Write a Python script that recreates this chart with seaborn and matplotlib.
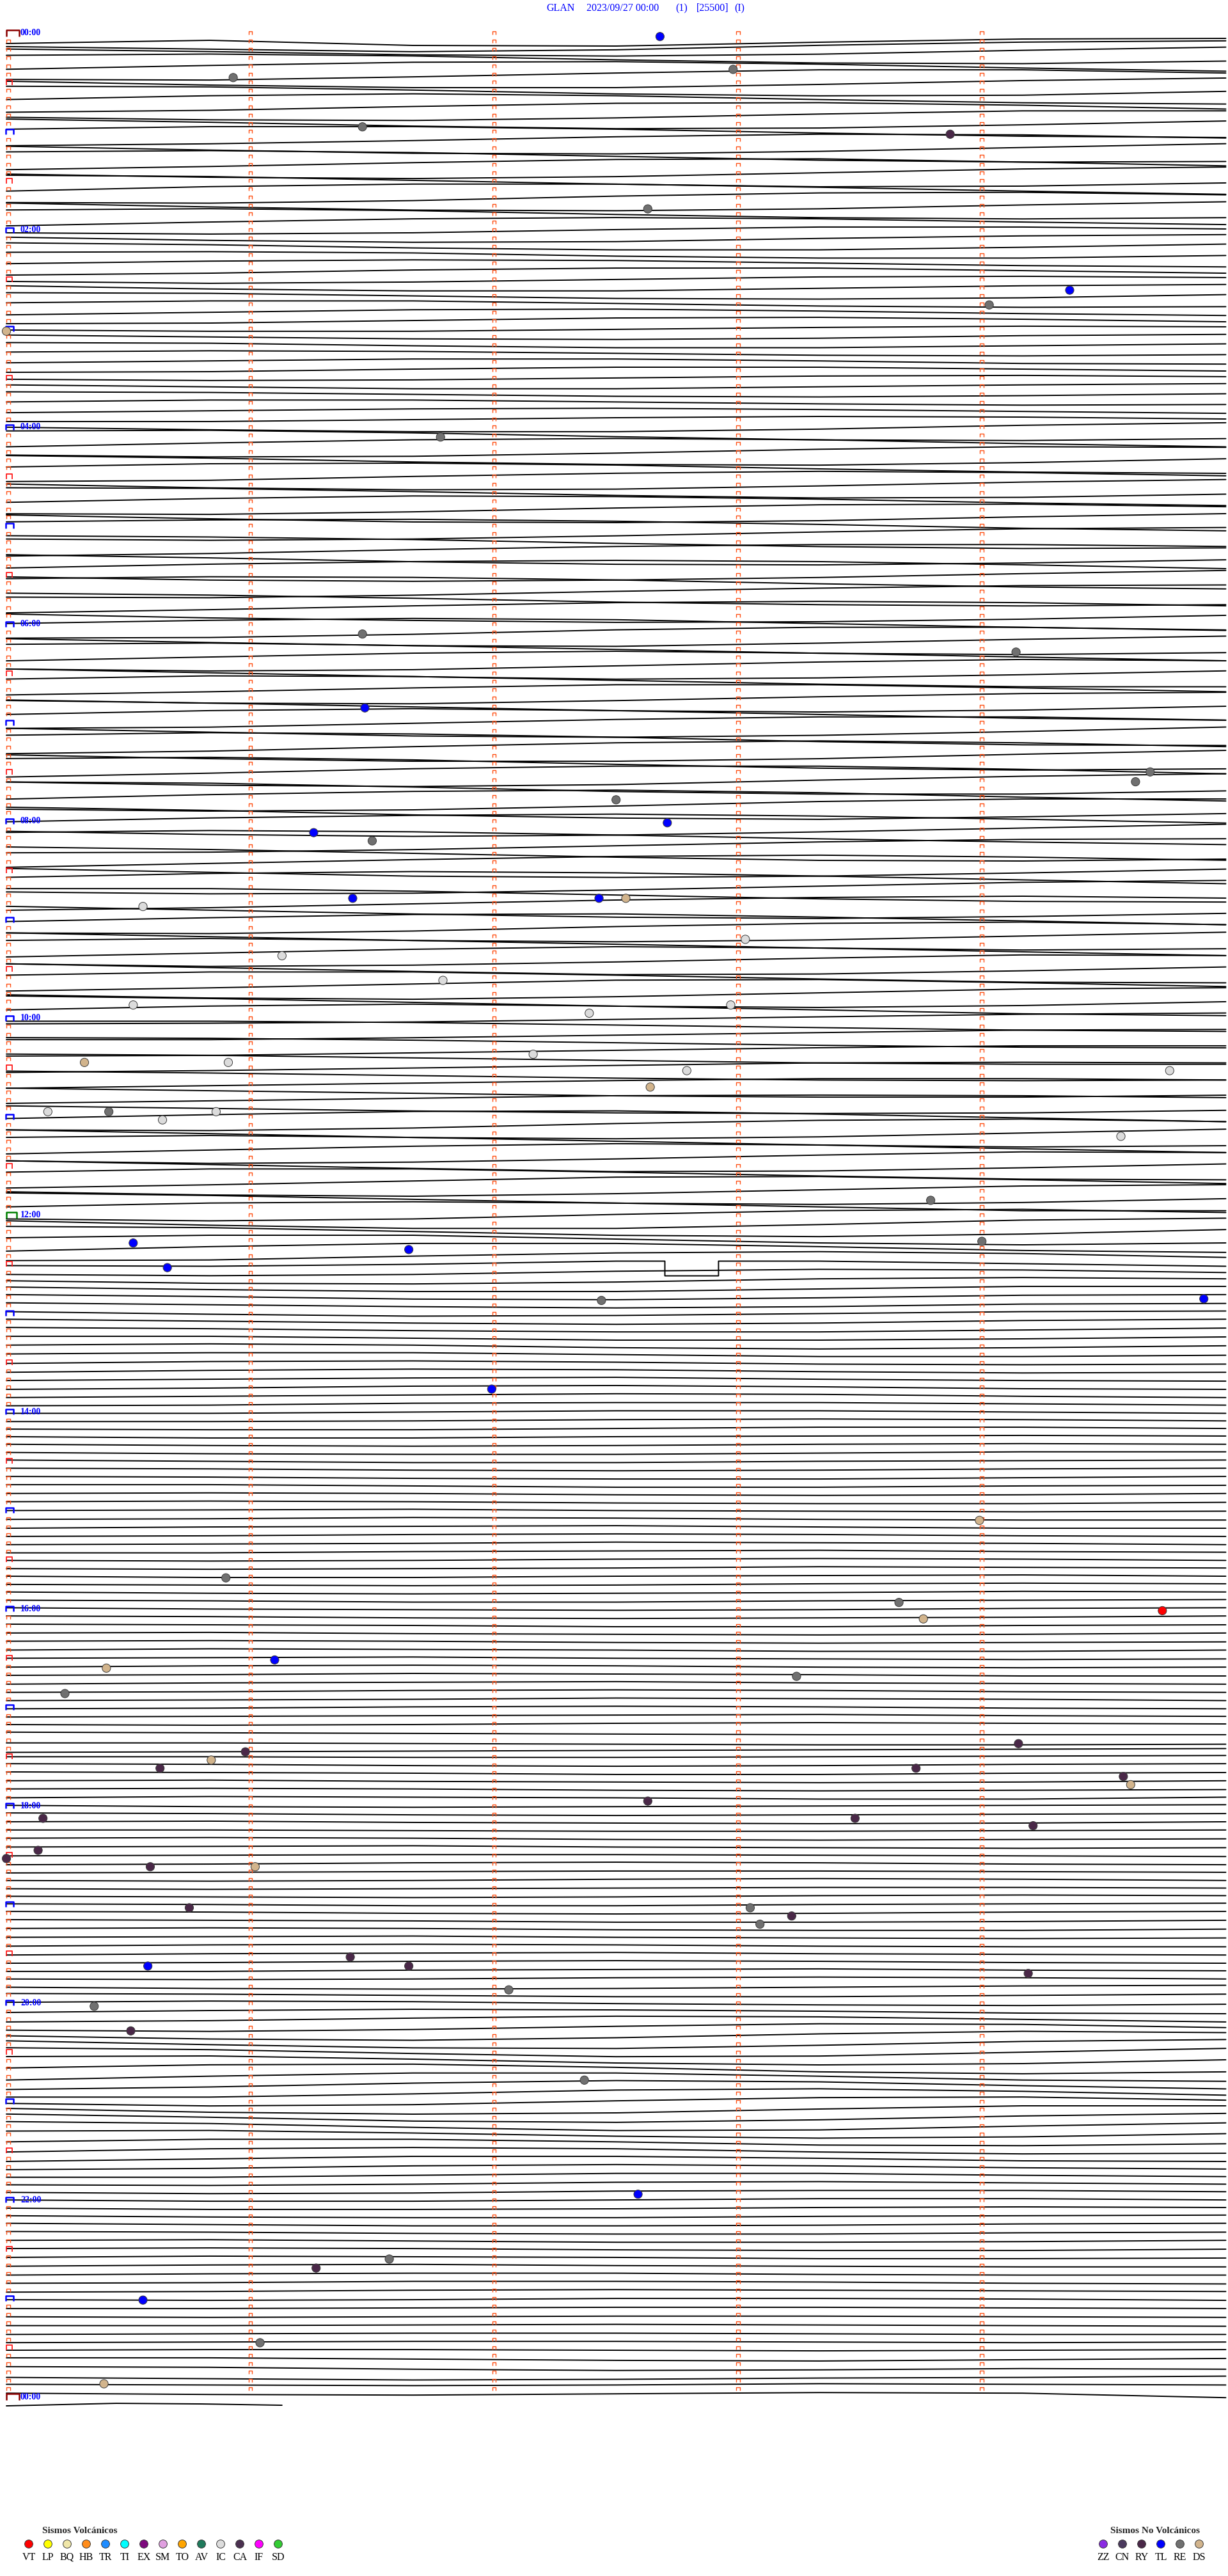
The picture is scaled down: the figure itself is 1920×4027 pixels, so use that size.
import numpy as np
import pandas as pd
import matplotlib
matplotlib.use("Agg")
import matplotlib.pyplot as plt
from matplotlib.path import Path
import seaborn as sns

# header
title_parts = ["GLAN", "2023/09/27 00:00", "(1)", "[25500]", "(I)"]
title_x = [854, 917, 1056, 1089, 1148]

# trace drift (px, + = down), one value every 50 s, 6 per 5-min line, one list per hour
h00 = [16, 11, 19, 20, 14, 9,  8, 12, 16, 13, 6, 1,  -1, 3, 8, 10, 7, 1,  -4, -6, -3, 3, 8, 9,
       5, -1, -6, -7, -3, 3,  8, 9, 4, -2, -7, -7,  -2, 4, 8, 8, 3, -3,  -7, -6, -1, 5, 8, 7,
       1, -5, -8, -5, 1, 6,  8, 5, -1, -6, -7, -3,  3, 7, 8, 4, -2, -7,  -7, -2, 4, 8, 7, 2]
h01 = [-4, -8, -8, -4, 2, 7,  9, 6, 1, -5, -9, -8,  -3, 3, 8, 9, 5, -1,  -7, -9, -6, 0, 6, 9,
       8, 3, -3, -8, -9, -4,  2, 7, 9, 6, 0, -6,  -9, -7, -1, 5, 9, 8,  3, -4, -8, -8, -3, 3,
       8, 9, 5, -2, -7, -8,  -4, 2, 7, 8, 5, -1,  -6, -8, -5, 1, 6, 8,  6, 0, -5, -7, -5, 0]
h02 = [4, 6, 4, -1, -5, -5,  -2, 3, 6, 5, 0, -4,  -6, -3, 2, 5, 5, 1,  -4, -5, -3, 2, 5, 5,
       1, -3, -5, -4, 0, 4,  6, 3, -2, -5, -5, -1,  3, 6, 4, 0, -4, -5,  -3, 2, 5, 5, 1, -3,
       -5, -4, 0, 4, 5, 3,  -2, -5, -5, -1, 3, 5,  4, 0, -4, -5, -2, 2,  5, 4, 0, -4, -5, -2]
h03 = [2, 4, 4, 1, -2, -4,  -3, 0, 3, 4, 2, -2,  -4, -3, 1, 4, 4, 1,  -2, -4, -3, 0, 3, 4,
       2, -1, -4, -4, -1, 3,  4, 3, -1, -4, -4, -1,  2, 4, 3, 0, -3, -4,  -2, 1, 4, 4, 1, -2,
       -4, -3, 0, 3, 4, 2,  -1, -4, -4, -1, 2, 4,  3, 0, -3, -4, -2, 1,  4, 4, 1, -2, -4, -3]
h04 = [0, 4, 7, 7, 3, -3,  -7, -8, -4, 2, 7, 8,  5, -1, -6, -8, -6, 0,  5, 8, 7, 2, -4, -8,
       -7, -3, 3, 7, 8, 4,  -2, -7, -8, -5, 1, 6,  8, 6, 0, -5, -8, -6,  -1, 5, 8, 7, 2, -4,
       -8, -7, -2, 4, 8, 7,  2, -4, -8, -7, -3, 3,  7, 8, 4, -2, -7, -8,  -4, 2, 7, 8, 5, -1]
h05 = [-6, -9, -10, -7, -2, 4,  8, 10, 8, 3, -3, -8,  -10, -8, -4, 2, 7, 10,  9, 5, -1, -6, -9, -9,
       -6, -1, 5, 9, 10, 7,  2, -4, -8, -10, -8, -3,  3, 8, 10, 8, 4, -2,  -7, -10, -9, -5, 1, 6,
       9, 10, 6, 0, -5, -9,  -10, -7, -2, 4, 8, 10,  8, 3, -3, -8, -10, -8,  -3, 3, 7, 10, 9, 5]
h06 = [-1, -6, -9, -7, -1, 5,  9, 8, 3, -4, -8, -8,  -3, 3, 8, 9, 4, -2,  -7, -9, -5, 1, 7, 9,
       6, 0, -6, -9, -6, 0,  6, 9, 7, 1, -5, -9,  -7, -1, 5, 9, 7, 2,  -4, -9, -8, -2, 4, 8,
       8, 3, -3, -8, -8, -3,  3, 8, 9, 4, -2, -7,  -9, -5, 1, 7, 9, 6,  0, -6, -9, -6, 0, 6]
h07 = [9, 7, 1, -5, -9, -9,  -4, 2, 8, 10, 7, 1,  -6, -10, -8, -3, 4, 9,  10, 6, -1, -7, -10, -7,
       -1, 5, 9, 9, 5, -2,  -8, -10, -6, 1, 7, 10,  8, 2, -5, -9, -9, -4,  3, 8, 10, 7, 0, -6,
       -10, -8, -2, 5, 9, 9,  4, -3, -8, -10, -6, 1,  7, 10, 8, 2, -5, -9,  -9, -4, 3, 8, 10, 6]
h08 = [1, -5, -9, -11, -8, -3,  3, 8, 11, 9, 4, -2,  -8, -11, -9, -4, 2, 7,  11, 10, 6, 0, -6, -10,
       -11, -7, -1, 5, 10, 11,  8, 2, -4, -9, -11, -8,  -3, 3, 9, 11, 9, 4,  -2, -8, -11, -9, -4, 2,
       8, 11, 10, 5, -1, -7,  -10, -10, -6, 0, 6, 10,  11, 7, 1, -5, -9, -11,  -8, -2, 4, 9, 11, 8]
h09 = [3, -3, -8, -9, -4, 2,  8, 9, 5, -2, -7, -9,  -5, 1, 7, 9, 6, 0,  -6, -9, -6, 0, 6, 9,
       7, 1, -5, -9, -7, -1,  5, 9, 7, 2, -4, -9,  -8, -2, 4, 9, 8, 3,  -3, -8, -8, -3, 3, 8,
       9, 4, -2, -8, -9, -4,  2, 7, 9, 5, -1, -7,  -9, -5, 1, 7, 9, 6,  0, -6, -9, -6, 0, 6]
h10 = [9, 8, 6, 2, -2, -6,  -8, -8, -6, -2, 2, 6,  8, 8, 5, 1, -3, -7,  -8, -7, -4, 0, 4, 7,
       8, 7, 3, -1, -5, -8,  -8, -6, -2, 2, 6, 8,  8, 5, 1, -3, -7, -8,  -7, -4, 0, 4, 7, 8,
       7, 3, -1, -5, -8, -8,  -6, -2, 2, 6, 8, 8,  5, 1, -3, -7, -8, -7,  -4, 0, 4, 7, 8, 7]
h11 = [3, -3, -8, -9, -4, 2,  8, 9, 5, -2, -7, -9,  -5, 1, 7, 9, 6, 0,  -6, -9, -6, 0, 6, 9,
       7, 1, -5, -9, -7, -1,  5, 9, 7, 2, -4, -9,  -8, -2, 4, 9, 8, 3,  -3, -8, -8, -3, 3, 8,
       9, 4, -2, -8, -9, -4,  2, 7, 9, 5, -1, -7,  -9, -5, 1, 7, 9, 6,  0, -6, -8, -6, 0, 6]
h12 = [6, 9, 6, -1, -7, -9,  -4, 3, 8, 8, 2, -5,  -8, -6, 0, 6, 8, 4,  -3, -7, -7, -1, 5, 8,
       5, -2, -7, -7, -2, 4,  7, 6, 0, -5, -7, -4,  2, 3, 0, -5, -5, -1,  3, 5, 3, -2, -5, -4,
       0, 4, 5, 2, -3, -5,  -3, 1, 4, 4, 0, -4,  -4, -1, 3, 4, 1, -3,  -4, -1, 2, 4, 2, -2]
h13 = [-3, 1, 4, 3, 0, -3,  -4, -1, 2, 4, 2, -2,  -4, -2, 1, 3, 3, 0,  -3, -3, 0, 3, 3, 1,
       -2, -4, -2, 2, 4, 2,  -1, -3, -3, 0, 3, 3,  1, -2, -3, -1, 2, 3,  2, -1, -3, -2, 1, 3,
       2, 0, -2, -3, 0, 2,  3, 1, -2, -3, -1, 2,  3, 1, -1, -3, -2, 1,  3, 2, -1, -2, -2, 0]
h14 = [2, 2, 0, -2, -2, 0,  2, 2, 1, -1, -2, -1,  1, 2, 2, 0, -2, -2,  0, 2, 2, 0, -1, -2,
       -1, 1, 2, 1, -1, -2,  -1, 1, 2, 2, 0, -2,  -2, 0, 2, 2, 0, -1,  -2, -1, 1, 2, 1, -1,
       -2, -1, 1, 2, 2, 0,  -2, -2, 0, 2, 2, 0,  -1, -2, -1, 1, 2, 1,  -1, -2, -1, 1, 2, 2]
h15 = [0, -1, -2, 0, 1, 2,  1, 0, -2, -1, 1, 2,  2, 0, -1, -2, 0, 2,  2, 1, -1, -2, -1, 1,
       2, 1, 0, -2, -1, 0,  2, 2, 0, -1, -2, 0,  1, 2, 1, -1, -2, -1,  1, 2, 1, 0, -2, -1,
       0, 2, 2, 0, -1, -2,  0, 1, 2, 1, -1, -2,  -1, 1, 2, 1, 0, -2,  -1, 0, 2, 2, 0, -1]
h16 = [-2, 0, 1, 2, 1, -1,  -2, -1, 1, 2, 1, 0,  -2, -1, 0, 2, 2, 0,  -1, -2, 0, 1, 2, 1,
       -1, -2, -1, 1, 2, 1,  0, -2, -1, 0, 2, 2,  0, -1, -2, 0, 1, 2,  1, -1, -2, -1, 1, 2,
       1, 0, -2, -1, 0, 2,  2, 0, -1, -2, 0, 1,  2, 1, -1, -2, -1, 1,  2, 1, 0, -2, -1, 0]
h17 = [2, 1, -1, -2, -1, 1,  2, 1, 0, -1, -2, 0,  1, 2, 1, -1, -2, -1,  0, 1, 2, 3, 4, 4,
       4, 4, 5, 6, 7, 7,  6, 5, 4, 3, 2, 1,  0, 0, 1, 1, 0, -1,  -2, -1, 1, 2, 1, -1,
       -2, -1, 0, 2, 2, 0,  -1, -2, 0, 1, 2, 1,  -1, -2, -1, 1, 2, 1,  0, -2, -1, 0, 2, 2]
h18 = [-1, 1, 2, 1, 0, -1,  -2, -1, 1, 2, 1, 0,  -1, -2, 0, 1, 2, 1,  -1, -1, 0, 1, 1, 0,
       -1, -2, -1, 1, 2, 1,  0, -1, -2, 0, 1, 2,  1, 0, -1, -1, 0, 1,  2, 1, -1, -2, -1, 1,
       2, 1, 0, -1, -1, 0,  1, 2, 1, -1, -2, -1,  1, 2, 1, 0, -1, -1,  0, 1, 2, 1, -1, -2]
h19 = [-1, 0, 2, 2, 0, -1,  -2, -1, 1, 2, 1, -1,  -2, -1, 0, 2, 2, 1,  -1, -2, -1, 1, 2, 2,
       0, -1, -2, 0, 1, 2,  1, -1, -2, -1, 1, 2,  2, 0, -1, -2, 0, 1,  2, 1, -1, -2, -1, 1,
       2, 2, 0, -1, -2, 0,  1, 2, 1, -1, -2, -1,  1, 3, 4, 3, 1, -1,  -2, -1, 1, 3, 3, 1]
h20 = [-1, -3, -2, 1, 3, 4,  2, -1, -3, -2, 0, 3,  4, 2, -2, -5, -4, 0,  4, 6, 3, -2, -6, -5,
       0, 5, 7, 3, -3, -7,  -5, 1, 6, 7, 2, -4,  -7, -4, 2, 7, 6, 0,  -6, -7, -2, 4, 7, 5,
       -1, -6, -7, -2, 5, 8,  5, -1, -6, -6, -1, 5,  7, 3, -3, -7, -5, 1,  6, 6, 1, -5, -7, -3]
h21 = [3, 7, 5, -1, -6, -7,  -2, 4, 7, 5, -1, -6,  -6, -1, 5, 7, 3, -3,  -7, -4, 2, 7, 6, 0,
       -5, -6, -2, 3, 6, 4,  -1, -5, -5, -1, 4, 5,  2, -3, -5, -3, 2, 5,  4, 0, -4, -4, -1, 3,
       4, 2, -2, -4, -2, 1,  3, 3, 0, -3, -3, 0,  2, 3, 1, -2, -3, -1,  1, 3, 2, -1, -2, -2]
h22 = [0, 2, 2, 0, -2, -2,  0, 2, 2, 1, -1, -2,  -1, 1, 2, 2, 0, -1,  -2, 0, 2, 2, 1, -1,
       -2, -1, 1, 2, 2, 0,  -1, -2, 0, 2, 2, 1,  -1, -2, -1, 1, 2, 2,  0, -2, -1, 0, 2, 2,
       1, -1, -2, 0, 1, 2,  2, 0, -1, -1, 1, 2,  2, 1, -1, -1, 0, 2,  3, 2, 0, -1, 0, 1]
h23 = [2, 3, 2, 0, 0, 1,  3, 3, 2, 1, 1, 2,  3, 4, 3, 2, 2, 3,  4, 4, 3, 2, 3, 4,
       5, 4, 3, 3, 4, 5,  5, 4, 3, 3, 4, 5,  4, 3, 3, 4, 5, 4,  3, 3, 5, 7, 8, 6,
       4, 5, 8, 10, 9, 7,  8, 10, 12, 11, 9, 8,  6, 7, 8, 7, 5, 6,  7, 9, 10, 8, 6, 7]
drift_end = [14]

# last (partial) line of the next day
tail_t = [0.0, 0.45, 0.8, 1.13]
tail_px = [14, 10, 11, 13]

# calibration pulse
cal_row = 150
cal_t = [2.70, 2.70, 2.92, 2.92]
cal_px = [-5, 18, 18, -5]

# classified events: minute within the line, line index, type
ev_t = [2.68, 2.98, 0.93, 1.46, 3.87, 2.63, 4.36, 4.03, 0.0, 1.78,
        1.46, 4.14, 1.47, 4.69, 4.63, 2.50, 2.71, 1.26, 1.50, 1.42,
        2.43, 2.54, 0.56, 3.03, 1.13, 1.79, 0.52, 2.97, 2.39, 2.16,
        0.32, 0.91, 4.77, 2.79, 2.64, 0.17, 0.42, 0.64, 0.86, 4.57,
        3.79, 0.52, 1.65, 4.00, 0.66, 4.91, 2.44, 1.99, 3.99, 0.90,
        3.66, 3.76, 4.74, 1.10, 0.41, 3.24, 0.24, 4.15, 0.98, 0.84,
        0.63, 3.73, 4.58, 4.61, 2.63, 0.15, 3.48, 4.21, 0.13, 0.0,
        0.59, 1.02, 0.75, 3.05, 3.22, 3.09, 1.41, 1.65, 0.58, 4.19,
        2.06, 0.36, 0.51, 2.37, 2.59, 1.57, 1.27, 0.56, 1.04, 0.40]
ev_row = [0.4, 4.4, 5.4, 11.4, 12.3, 21.4, 31.3, 33.1, 36.3, 49.2,
          73.2, 75.4, 82.2, 90.0, 91.2, 93.4, 96.2, 97.4, 98.4, 105.4,
          105.4, 105.4, 106.4, 110.4, 112.4, 115.4, 118.4, 118.4, 119.4, 124.4,
          125.4, 125.4, 126.4, 126.4, 128.4, 131.4, 131.4, 132.4, 131.4, 134.4,
          142.2, 147.4, 148.2, 147.2, 150.4, 154.2, 154.4, 165.2, 181.2, 188.2,
          191.2, 193.2, 192.2, 198.2, 199.2, 200.2, 202.3, 208.4, 209.4, 210.4,
          211.4, 211.4, 212.4, 213.4, 215.4, 217.5, 217.5, 218.4, 221.4, 222.4,
          223.4, 223.4, 228.4, 228.4, 229.4, 230.4, 234.4, 235.5, 235.5, 236.4,
          238.4, 240.4, 243.4, 249.4, 263.3, 271.2, 272.3, 276.2, 281.4, 286.4]
ev_code = ["TL", "RE", "RE", "RE", "RY", "RE", "TL", "RE", "DS", "RE",
           "RE", "RE", "TL", "RE", "RE", "RE", "TL", "TL", "RE", "TL",
           "TL", "DS", "IC", "IC", "IC", "IC", "IC", "IC", "IC", "IC",
           "DS", "IC", "IC", "IC", "DS", "IC", "RE", "IC", "IC", "IC",
           "RE", "TL", "TL", "RE", "TL", "TL", "RE", "TL", "DS", "RE",
           "RE", "DS", "VT", "TL", "DS", "RE", "RE", "RY", "RY", "DS",
           "RY", "RY", "RY", "DS", "RY", "RY", "RY", "RY", "RY", "RY",
           "RY", "DS", "RY", "RE", "RY", "RE", "RY", "RY", "TL", "RY",
           "RE", "RE", "RY", "RE", "TL", "RE", "RY", "TL", "RE", "DS"]

volc_codes = ["VT", "LP", "BQ", "HB", "TR", "TI", "EX", "SM", "TO", "AV", "IC", "CA", "IF", "SD"]
volc_colors = ["#ff0000", "#ffff00", "#efe6a8", "#ff8c1a", "#1e8cff", "#00ffff", "#7d0a7d",
               "#e0a0e0", "#ffa500", "#1f7a5c", "#dcdcdc", "#4b3050", "#ff00ff", "#33cc33"]
novolc_codes = ["ZZ", "CN", "RY", "TL", "RE", "DS"]
novolc_colors = ["#8a2be2", "#4b3a5e", "#4a2848", "#0000ff", "#707070", "#d2b48c"]

W, H = 1920, 4027
X0, PX_MIN = 10, 381.3
Y0, PX_ROW = 52, 12.83
N_ROWS = 288

sns.set_style("white")
plt.rcParams["font.family"] = ["Liberation Serif", "DejaVu Serif"]

drift = np.array(h00 + h01 + h02 + h03 + h04 + h05 + h06 + h07 + h08 + h09 + h10 + h11 +
                 h12 + h13 + h14 + h15 + h16 + h17 + h18 + h19 + h20 + h21 + h22 + h23 +
                 drift_end, dtype=float)
knots = np.arange(7) * 5 / 6

frames = []
for i in range(N_ROWS):
    t = list(knots)
    v = list(drift[6 * i:6 * i + 7])
    if i == cal_row:
        t += cal_t
        v += cal_px
    d = pd.DataFrame({"t": t, "px": v}).sort_values("t", kind="mergesort")
    d["line"] = i
    frames.append(d)
frames.append(pd.DataFrame({"t": tail_t, "px": tail_px, "line": N_ROWS}))
traces = pd.concat(frames, ignore_index=True)
traces["y"] = traces["line"] + traces["px"] / PX_ROW

events = pd.DataFrame({"t": ev_t, "row": ev_row, "code": ev_code})
palette = dict(zip(volc_codes + novolc_codes, volc_colors + novolc_colors))

fig = plt.figure(figsize=(W / 100, H / 100), dpi=100)
ax = fig.add_axes([0, 0, 1, 1])
ax.set_xlim(-X0 / PX_MIN, (W - X0) / PX_MIN)
ax.set_ylim((H - Y0) / PX_ROW, -Y0 / PX_ROW)
ax.axis("off")

sns.lineplot(data=traces, x="t", y="y", units="line", estimator=None, sort=False,
             color="black", linewidth=1.4, legend=False, ax=ax)


def bracket(w, h):
    return Path([(-w / 2, -h / 2), (-w / 2, h / 2), (w / 2, h / 2), (w / 2, -h / 2)],
                [Path.MOVETO, Path.LINETO, Path.LINETO, Path.LINETO])


def put_marks(ts, rows, w, h, color, lw):
    ax.scatter(ts, rows, marker=bracket(w, h), s=(max(w, h) * 0.72) ** 2,
               facecolors="none", edgecolors=color, linewidths=lw, zorder=3)


# minute columns
rows = np.arange(N_ROWS)
for m in [1, 2, 3, 4]:
    put_marks(np.full(N_ROWS, m), rows, 5.5, 5, "#ff5014", 1.0)

# left column
all_rows = np.arange(N_ROWS + 1)
small = [r for r in all_rows if r % 6 != 0]
half = [r for r in all_rows if r % 12 == 6]
hour = [r for r in all_rows if r % 12 == 0 and r not in (0, 144, 288)]
put_marks(np.full(len(small), 3 / PX_MIN), small, 5.5, 5, "#ff5014", 1.0)
put_marks(np.full(len(half), 4.5 / PX_MIN), half, 9, 8, "#ff1a1a", 1.3)
put_marks(np.full(len(hour), 5 / PX_MIN), hour, 12, 8, "#0000ff", 1.8)
put_marks(np.full(2, 9.5 / PX_MIN), [0, 288], 20, 10, "#8b0000", 1.8)
put_marks([7.5 / PX_MIN], [144], 16, 10, "#008000", 1.8)

for h in range(0, 25, 2):
    ax.text((32 - X0) / PX_MIN, 12 * h, f"{h % 24:02d}:00", color="#0000ff",
            fontsize=10, fontweight="bold", va="center", ha="left", zorder=4)

sns.scatterplot(data=events, x="t", y="row", hue="code", palette=palette, s=90,
                edgecolor="#3a3a3a", linewidth=0.7, legend=False, ax=ax, zorder=5)

for part, px in zip(title_parts, title_x):
    fig.text(px / W, 1 - 13 / H, part, color="#0000ff", fontsize=11.5, va="center", ha="left")

# legend strip
lax = fig.add_axes([0, 0, 1, 161 / H])
lax.set_xlim(0, W)
lax.set_ylim(H, H - 161)
lax.axis("off")

leg_v = pd.DataFrame({"x": 45 + 30 * np.arange(len(volc_codes)), "code": volc_codes})
leg_n = pd.DataFrame({"x": 1725 + 30 * np.arange(len(novolc_codes)), "code": novolc_codes})
for leg, head, hx in [(leg_v, "Sismos Volcánicos", 125), (leg_n, "Sismos No Volcánicos", 1806)]:
    leg["y"] = 3977
    sns.scatterplot(data=leg, x="x", y="y", hue="code", palette=palette, s=85,
                    edgecolor="#3a3a3a", linewidth=0.7, legend=False, ax=lax)
    for x, c in zip(leg["x"], leg["code"]):
        lax.text(x, 3998, c, fontsize=11.5, ha="center", va="center", color="black")
    lax.text(hx, 3957, head, fontsize=11, fontweight="bold", ha="center", va="center")
lax.set_xlim(0, W)
lax.set_ylim(H, H - 161)

fig.savefig("out.png", dpi=100)
